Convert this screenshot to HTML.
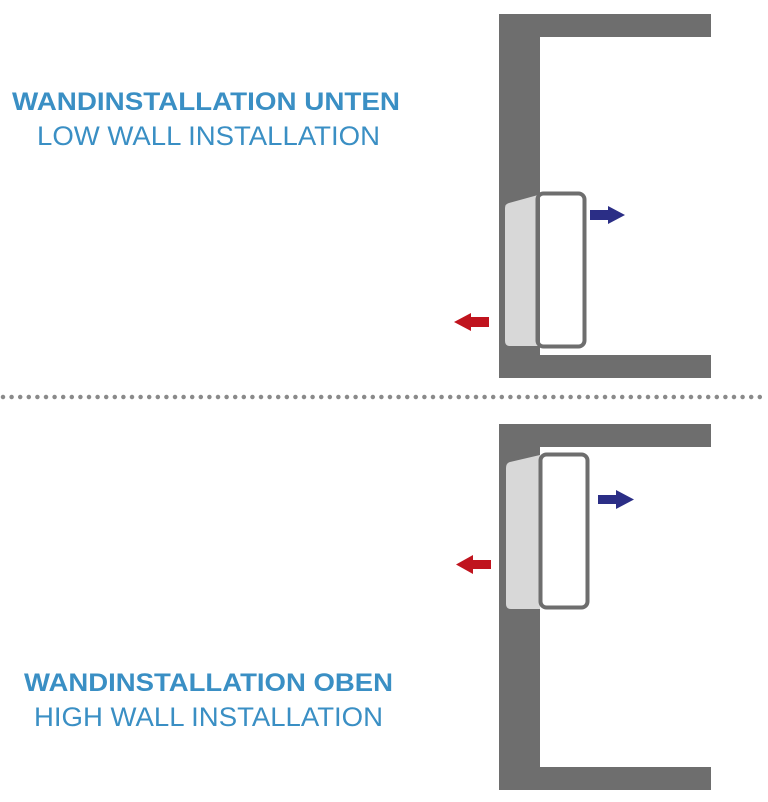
<!DOCTYPE html>
<html><head><style>body{margin:0;background:#fff}svg{display:block}</style></head><body>
<svg width="768" height="802" viewBox="0 0 768 802" xmlns="http://www.w3.org/2000/svg">
<g font-family="Liberation Sans, sans-serif" fill="#3a8fc4">
<text x="12" y="110" font-size="25" font-weight="bold" textLength="388" lengthAdjust="spacingAndGlyphs">WANDINSTALLATION UNTEN</text>
<text x="37" y="145" font-size="27" textLength="343" lengthAdjust="spacingAndGlyphs">LOW WALL INSTALLATION</text>
<text x="24" y="691" font-size="25" font-weight="bold" textLength="369" lengthAdjust="spacingAndGlyphs">WANDINSTALLATION OBEN</text>
<text x="34" y="726" font-size="27" textLength="349" lengthAdjust="spacingAndGlyphs">HIGH WALL INSTALLATION</text>
</g>
<path d="M499 14H711V37H540V355H711V378H499Z" fill="#6e6e6e"/>
<path d="M499 424H711V447H540V767H711V790H499Z" fill="#6e6e6e"/>
<line x1="3" y1="397" x2="768" y2="397" stroke="#8a8a8a" stroke-width="4.5" stroke-linecap="round" stroke-dasharray="0 8.6"/>
<path d="M505 208Q505 204 509 203L538 195V346H510Q505 346 505 341Z" fill="#d8d8d8"/>
<rect x="537.5" y="193.5" width="47" height="153" rx="6" fill="none" stroke="#6e6e6e" stroke-width="4"/>
<path d="M590 210H608V206L625 215L608 224V220H590Z" fill="#2b2e86"/>
<path d="M489 317H471V313L454 322L471 331V327H489Z" fill="#c0141e"/>
<path d="M506 468Q506 463 510 462L540 455V609H511Q506 609 506 604Z" fill="#d8d8d8"/>
<rect x="540.5" y="454.5" width="47" height="153" rx="6" fill="none" stroke="#6e6e6e" stroke-width="4"/>
<path d="M598 495H616V490L634 499.5L616 509V504H598Z" fill="#2b2e86"/>
<path d="M491 560H473V555L456 564.5L473 574V569H491Z" fill="#c0141e"/>
</svg>
</body></html>
